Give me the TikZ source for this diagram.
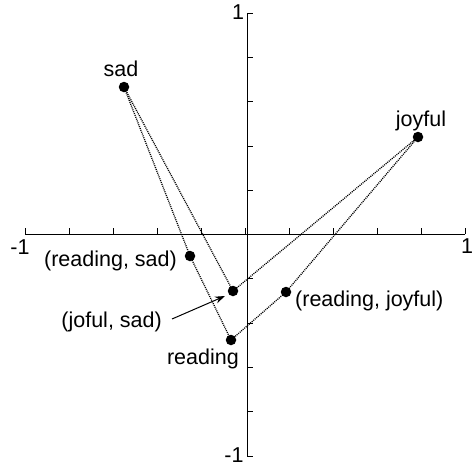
\documentclass[tikz,border=0pt]{standalone}
\usepackage{fontspec}
\setmainfont{Liberation Sans}
\usetikzlibrary{arrows.meta}
\begin{document}
\begin{tikzpicture}[x=1pt,y=-1pt,
  axis/.style={line width=1pt},
  tick/.style={line width=0.8pt},
  pt/.style={circle,fill=black,inner sep=0pt,minimum size=10.5pt},
  lbl/.style={inner sep=0pt,font=\fontsize{21.5}{24}\selectfont},
  conn/.style={dash pattern=on 1pt off 1pt,line width=1.3pt},
]
\useasboundingbox (0,0) rectangle (473,466);
% axes
\draw[axis] (25,234) -- (465,234);
\draw[axis] (247,13) -- (247,456);
\foreach \i in {0,...,10} {
  \draw[tick] ({25+44*\i},234) -- ({25+44*\i},228);
  \draw[tick] (247,{13+44.3*\i}) -- (253,{13+44.3*\i});
}
\node[lbl] (t1) at (238,12) {1};
\node[lbl] (l1) at (20,247) {-1};
\node[lbl] (r1) at (467,246) {1};
\node[lbl] (b1) at (234,455) {-1};
% points
\node[pt] (sad) at (124,87) {};
\node[pt] (joy) at (418,137) {};
\node[pt] (rea) at (231,340) {};
\node[pt] (rs) at (190,256) {};
\node[pt] (js) at (233,291) {};
\node[pt] (rj) at (286,292) {};
% connectors
\draw[conn] (sad.center) -- (rs.center) -- (rea.center);
\draw[conn] (sad.center) -- (js.center) -- (joy.center);
\draw[conn] (joy.center) -- (rj.center) -- (rea.center);
% labels
\node[lbl,anchor=base] (lsad) at (121,76) {sad};
\node[lbl,anchor=base] (ljoy) at (421,126) {joyful};
\node[lbl,anchor=base east] (lrea) at (239,364) {reading};
\node[lbl,anchor=base east] (lrs) at (177,266) {(reading, sad)};
\node[lbl,anchor=base west] (lrj) at (295,306) {(reading, joyful)};
\node[lbl,anchor=base east] (ljs) at (162,327) {(joful, sad)};
\coordinate (as) at (172,319);
\draw[line width=1pt,-{Stealth[length=10pt,width=7pt]}] (as) -- (225,296);
\end{tikzpicture}
\end{document}
